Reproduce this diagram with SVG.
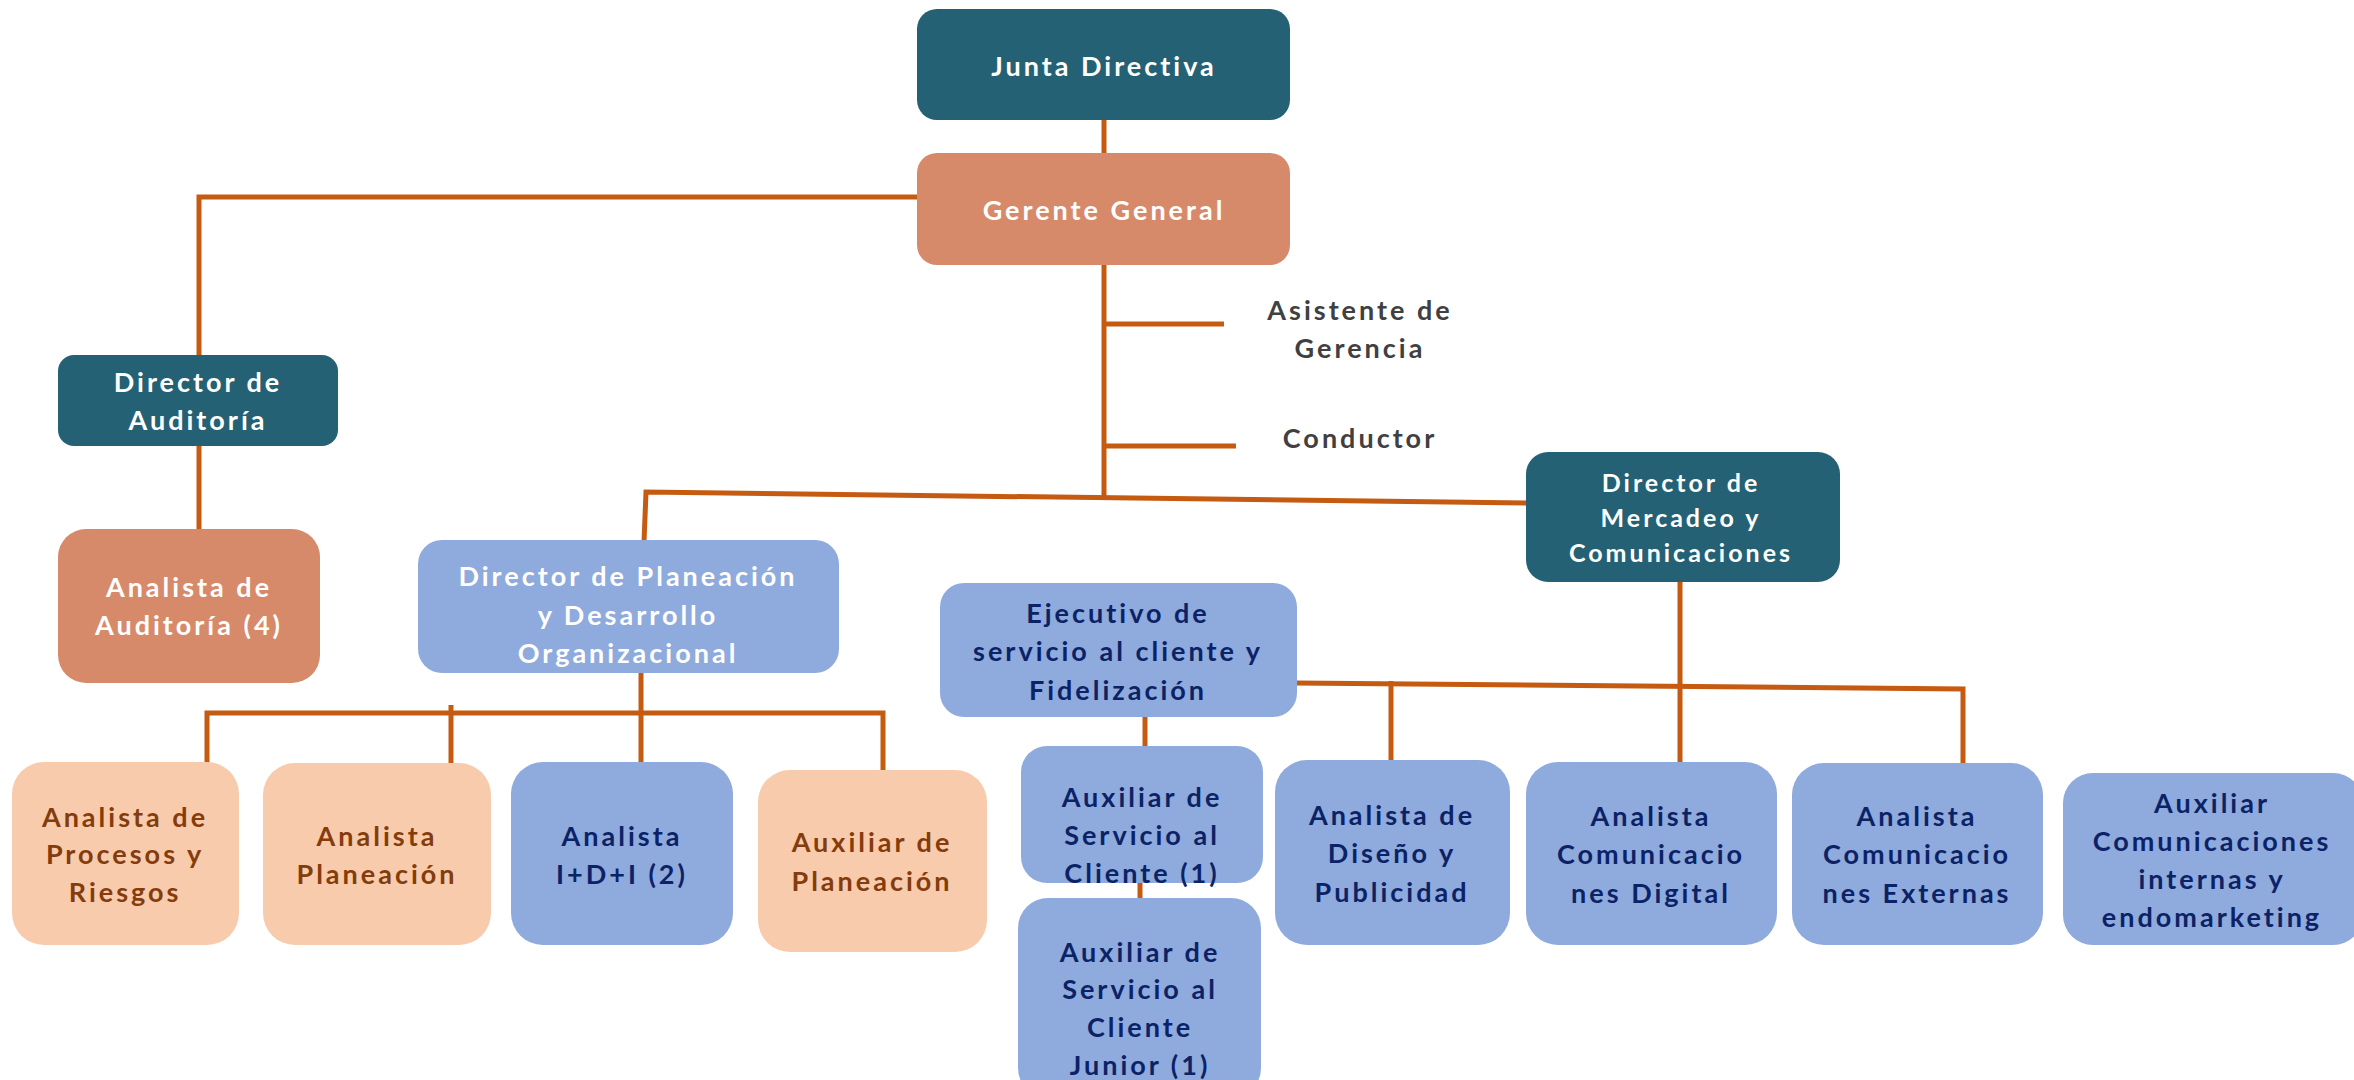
<svg xmlns="http://www.w3.org/2000/svg" width="2354" height="1080" viewBox="0 0 2354 1080">
<style>
.t{font-family:Lato,"Open Sans","Liberation Sans",sans-serif;font-weight:bold;font-size:27px;letter-spacing:3px;text-anchor:middle}
.w{fill:#ffffff}
.n{fill:#0b2366}
.b{fill:#843c0c}
.g{fill:#404040}
.dark{fill:#256174}
.sal{fill:#d78a6a}
.blue{fill:#8faadc}
.peach{fill:#f8cbad}
.c{stroke:#c55a11;stroke-width:5;fill:none}
</style>
<rect width="2354" height="1080" fill="#ffffff"/>
<g id="connectors">
<line class="c" x1="1104" y1="118" x2="1104" y2="155"/>
<polyline class="c" points="917,197 199,197 199,357"/>
<line class="c" x1="199" y1="444" x2="199" y2="531"/>
<line class="c" x1="1104" y1="263" x2="1104" y2="497"/>
<line class="c" x1="1104" y1="324" x2="1224" y2="324"/>
<line class="c" x1="1104" y1="446" x2="1236" y2="446"/>
<polyline class="c" points="644,542 646,492 1528,503"/>
<line class="c" x1="641" y1="671" x2="641" y2="764"/>
<polyline class="c" points="207,764 207,713 883,713 883,772"/>
<line class="c" x1="451" y1="705" x2="451" y2="765"/>
<line class="c" x1="1145" y1="715" x2="1145" y2="748"/>
<line class="c" x1="1140" y1="881" x2="1140" y2="900"/>
<polyline class="c" points="1295,683 1963,689 1963,765"/>
<line class="c" x1="1391" y1="681" x2="1391" y2="762"/>
<line class="c" x1="1680" y1="580" x2="1680" y2="764"/>
</g>
<g id="junta-directiva">
<rect class="dark" x="917" y="9" width="373" height="111" rx="20"/>
<text class="t w" x="1104" y="76">Junta Directiva</text>
</g>
<g id="gerente-general">
<rect class="sal" x="917" y="153" width="373" height="112" rx="20"/>
<text class="t w" x="1104" y="220">Gerente General</text>
</g>
<g id="asistente-gerencia">
<text class="t g" x="1360" y="320">Asistente de</text>
<text class="t g" x="1360" y="358">Gerencia</text>
</g>
<g id="conductor">
<text class="t g" x="1360" y="448">Conductor</text>
</g>
<g id="director-auditoria">
<rect class="dark" x="58" y="355" width="280" height="91" rx="16"/>
<text class="t w" x="198" y="392">Director de</text>
<text class="t w" x="198" y="430">Auditoría</text>
</g>
<g id="analista-auditoria">
<rect class="sal" x="58" y="529" width="262" height="154" rx="28"/>
<text class="t w" x="189" y="597">Analista de</text>
<text class="t w" x="189" y="635">Auditoría (4)</text>
</g>
<g id="director-planeacion">
<rect class="blue" x="418" y="540" width="421" height="133" rx="24"/>
<text class="t w" x="628" y="586">Director de Planeación</text>
<text class="t w" x="628" y="625">y Desarrollo</text>
<text class="t w" x="628" y="663">Organizacional</text>
</g>
<g id="director-mercadeo">
<rect class="dark" x="1526" y="452" width="314" height="130" rx="22"/>
<text class="t w" x="1681" y="492" style="font-size:25px">Director de</text>
<text class="t w" x="1681" y="527" style="font-size:25px">Mercadeo y</text>
<text class="t w" x="1681" y="562" style="font-size:25px">Comunicaciones</text>
</g>
<g id="analista-procesos">
<rect class="peach" x="12" y="762" width="227" height="183" rx="32"/>
<text class="t b" x="125" y="827">Analista de</text>
<text class="t b" x="125" y="864">Procesos y</text>
<text class="t b" x="125" y="902">Riesgos</text>
</g>
<g id="analista-planeacion">
<rect class="peach" x="263" y="763" width="228" height="182" rx="32"/>
<text class="t b" x="377" y="846">Analista</text>
<text class="t b" x="377" y="884">Planeación</text>
</g>
<g id="analista-idi">
<rect class="blue" x="511" y="762" width="222" height="183" rx="32"/>
<text class="t n" x="622" y="846">Analista</text>
<text class="t n" x="622" y="884">I+D+I (2)</text>
</g>
<g id="auxiliar-planeacion">
<rect class="peach" x="758" y="770" width="229" height="182" rx="32"/>
<text class="t b" x="872" y="852">Auxiliar de</text>
<text class="t b" x="872" y="891">Planeación</text>
</g>
<g id="ejecutivo-servicio">
<rect class="blue" x="940" y="583" width="357" height="134" rx="24"/>
<text class="t n" x="1118" y="623">Ejecutivo de</text>
<text class="t n" x="1118" y="661">servicio al cliente y</text>
<text class="t n" x="1118" y="700">Fidelización</text>
</g>
<g id="auxiliar-servicio">
<rect class="blue" x="1021" y="746" width="242" height="137" rx="26"/>
<text class="t n" x="1142" y="807">Auxiliar de</text>
<text class="t n" x="1142" y="845">Servicio al</text>
<text class="t n" x="1142" y="883">Cliente (1)</text>
</g>
<g id="auxiliar-servicio-junior">
<rect class="blue" x="1018" y="898" width="243" height="200" rx="30"/>
<text class="t n" x="1140" y="962">Auxiliar de</text>
<text class="t n" x="1140" y="999">Servicio al</text>
<text class="t n" x="1140" y="1037">Cliente</text>
<text class="t n" x="1140" y="1075">Junior (1)</text>
</g>
<g id="analista-diseno">
<rect class="blue" x="1275" y="760" width="235" height="185" rx="32"/>
<text class="t n" x="1392" y="825">Analista de</text>
<text class="t n" x="1392" y="863">Diseño y</text>
<text class="t n" x="1392" y="902">Publicidad</text>
</g>
<g id="analista-com-digital">
<rect class="blue" x="1526" y="762" width="251" height="183" rx="32"/>
<text class="t n" x="1651" y="826">Analista</text>
<text class="t n" x="1651" y="864">Comunicacio</text>
<text class="t n" x="1651" y="903">nes Digital</text>
</g>
<g id="analista-com-externas">
<rect class="blue" x="1792" y="763" width="251" height="182" rx="32"/>
<text class="t n" x="1917" y="826">Analista</text>
<text class="t n" x="1917" y="864">Comunicacio</text>
<text class="t n" x="1917" y="903">nes Externas</text>
</g>
<g id="auxiliar-com-internas">
<rect class="blue" x="2063" y="773" width="300" height="172" rx="30"/>
<text class="t n" x="2212" y="813">Auxiliar</text>
<text class="t n" x="2212" y="851">Comunicaciones</text>
<text class="t n" x="2212" y="889">internas y</text>
<text class="t n" x="2212" y="927">endomarketing</text>
</g>
</svg>
